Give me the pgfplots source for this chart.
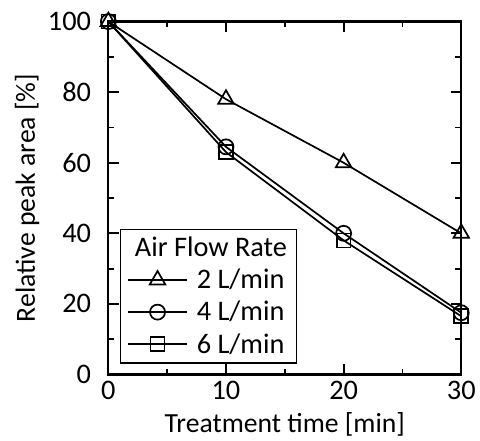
\documentclass[border=0pt]{standalone}
\usepackage{fontspec}
\setmainfont{Carlito}
\usepackage{pgfplots}
\pgfplotsset{compat=1.18}
\begin{document}
\begin{tikzpicture}
\begin{axis}[
  scale only axis,
  width=268pt, height=268pt,
  xmin=0, xmax=30, ymin=0, ymax=100,
  xtick={0,10,20,30}, ytick={0,20,...,100},
  minor x tick num=1, minor y tick num=1,
  tick align=inside,
  major tick length=8pt, minor tick length=4.5pt,
  every tick/.style={black, line width=1.4pt},
  every axis/.append style={line width=1.7pt},
  tick label style={font=\fontsize{21.5}{24}\selectfont},
  /pgf/number format/assume math mode=true,
  xticklabel style={yshift=-1pt},
  yticklabel style={xshift=-9pt},
  xlabel={Treatment time [min]},
  ylabel={Relative peak area [\%]},
  label style={font=\fontsize{21}{24}\selectfont},
  xlabel style={yshift=-2pt},
  ylabel style={yshift=-1pt},
  legend style={
    at={(0.034,0.031)}, anchor=south west,
    font=\fontsize{21.5}{24}\selectfont,
    draw=black, line width=0.8pt,
    row sep=4pt,
    inner xsep=5pt, inner ysep=4pt,
  },
  legend cell align=left,
  legend image code/.code={
    \draw[mark repeat=2, mark phase=2, #1]
      plot coordinates {(0cm,0cm) (0.78cm,0cm) (1.56cm,0cm)};
  },
]
\addplot[black, line width=1.3pt, mark=triangle, mark size=6.8pt,
  mark options={fill=white, solid}, forget plot]
  coordinates {(0,100) (10,78) (20,60) (30,40)};
\addplot[black, line width=1.3pt, mark=square, mark size=5.3pt,
  mark options={fill=white, solid}, forget plot]
  coordinates {(0,100) (10,63) (20,38) (30,16.5)};
\addplot[black, line width=1.3pt, mark=o, mark size=5.7pt,
  mark options={fill=white, solid}, forget plot]
  coordinates {(0,100) (10,64.5) (20,40) (30,17.5)};

\addlegendimage{empty legend}
\addlegendentry{\hspace*{-42pt}Air Flow Rate}
\addlegendimage{black, line width=1.3pt, mark=triangle, mark size=6.8pt, mark options={fill=white, solid}}
\addlegendentry{\hspace*{5pt}2 L/min}
\addlegendimage{black, line width=1.3pt, mark=o, mark size=5.7pt, mark options={fill=white, solid}}
\addlegendentry{\hspace*{5pt}4 L/min}
\addlegendimage{black, line width=1.3pt, mark=square, mark size=5.3pt, mark options={fill=white, solid}}
\addlegendentry{\hspace*{5pt}6 L/min}
\end{axis}
\path (current bounding box.north west) ++(-8pt,6pt) coordinate (pad);
\path (pad) rectangle (pad);
\end{tikzpicture}
\end{document}
